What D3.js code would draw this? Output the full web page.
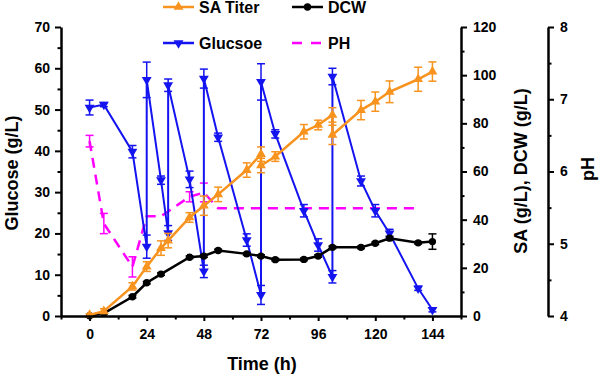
<!DOCTYPE html>
<html>
<head>
<meta charset="utf-8">
<script src="https://cdn.jsdelivr.net/npm/d3@7"></script>
<style>
  body { margin: 0; background: #fff; }
  svg text { font-family: "Liberation Sans", Arial, sans-serif; font-weight: bold; }
</style>
</head>
<body>
<svg width="600" height="375"></svg>
<script>
// glucose (g/L) - duplicate times are the feeding points
const glcTime = [0, 6, 18, 24, 24, 30, 33, 33, 42, 48, 48, 54, 66, 72, 72, 78, 90, 96, 102, 102, 114, 120, 126, 138, 144];
const glcVal  = [50.5, 51.2, 39.8, 16.8, 57.2, 32.9, 20.1, 55.9, 33.1, 10.8, 57.5, 43.3, 18.4, 5.1, 56.7, 44.1, 25.5, 17.2, 9.5, 58.0, 32.7, 25.5, 20.0, 6.7, 1.5];
const glcErr  = [1.8, 0.5, 1.5, 2.8, 4.3, 1.0, 1.8, 1.5, 2.0, 1.5, 2.3, 1.0, 1.5, 2.3, 4.4, 1.0, 1.5, 1.5, 1.5, 2.0, 1.2, 1.5, 1.0, 0.5, 0.5];

// SA titer (g/L)
const saTime = [0, 6, 18, 24, 30, 33, 42, 48, 54, 66, 72, 72, 78, 90, 96, 102, 102, 114, 120, 126, 138, 144];
const saVal  = [0.4, 2.0, 12.3, 20.5, 28.2, 31.3, 40.9, 45.8, 50.5, 60.6, 67.2, 62.5, 66.2, 76.5, 79.3, 83.5, 75.2, 85.5, 89.0, 93.1, 98.3, 101.5];
const saErr  = [0.5, 1, 1.5, 2, 3, 3, 2, 4, 3, 3, 3, 3, 2, 3, 2, 3, 4, 4, 4, 4.5, 5, 4];

// DCW (g/L)
const dcwTime = [0, 6, 18, 24, 30, 42, 48, 54, 66, 72, 78, 90, 96, 102, 114, 120, 126, 138, 144];
const dcwVal  = [0.1, 1.1, 8.0, 13.8, 17.4, 24.4, 24.9, 27.2, 25.8, 24.9, 23.4, 23.5, 24.9, 28.5, 28.5, 30.2, 32.3, 30.4, 30.9];
const dcwErr  = [0, 0.3, 0.5, 0.5, 0.5, 0.5, 0.5, 0.5, 0.5, 0.5, 0.5, 0.5, 0.5, 0.5, 0.5, 0.5, 0.8, 0.5, 3.2];

// pH
const phTime = [0, 6, 18, 24, 30, 42, 48, 54, 66, 72, 78, 90, 96, 102, 114, 120, 126, 138];
const phVal  = [6.42, 5.28, 4.68, 5.38, 5.38, 5.65, 5.71, 5.49, 5.49, 5.49, 5.49, 5.49, 5.49, 5.49, 5.49, 5.49, 5.49, 5.49];
const phErr  = [0.08, 0.14, 0.14, 0, 0, 0.07, 0.13, 0, 0, 0, 0, 0, 0, 0, 0, 0, 0, 0];

const timeTicks = [0, 24, 48, 72, 96, 120, 144];
const orange = '#f7931e', blue = '#1414f0', magenta = '#ff00ff';

const svg = d3.select('svg');

const x = d3.scaleLinear().domain([-12, 156]).range([61, 461]);
const yGlc = d3.scaleLinear().domain([0, 70]).range([316, 27]);
const ySa = d3.scaleLinear().domain([0, 120]).range([316, 27]);
const yPh = d3.scaleLinear().domain([4, 8]).range([316, 27]);

function zip(t, v, e) { return t.map((d, i) => ({t: d, v: v[i], e: e[i]})); }
const glc = zip(glcTime, glcVal, glcErr);
const sa = zip(saTime, saVal, saErr);
const dcw = zip(dcwTime, dcwVal, dcwErr);
const ph = zip(phTime, phVal, phErr);

function errorBars(data, y, color, w) {
    const g = svg.append('g').attr('stroke', color).attr('stroke-width', 1.5);
    const eb = data.filter(d => d.e > 0);
    g.selectAll('.v').data(eb).enter().append('line')
        .attr('x1', d => x(d.t)).attr('x2', d => x(d.t))
        .attr('y1', d => y(d.v - d.e)).attr('y2', d => y(d.v + d.e));
    g.selectAll('.t').data(eb).enter().append('line')
        .attr('x1', d => x(d.t) - w).attr('x2', d => x(d.t) + w)
        .attr('y1', d => y(d.v + d.e)).attr('y2', d => y(d.v + d.e));
    g.selectAll('.b').data(eb).enter().append('line')
        .attr('x1', d => x(d.t) - w).attr('x2', d => x(d.t) + w)
        .attr('y1', d => y(d.v - d.e)).attr('y2', d => y(d.v - d.e));
}

function drawLine(data, y, color, width, dash) {
    svg.append('path').datum(data)
        .attr('fill', 'none').attr('stroke', color).attr('stroke-width', width)
        .attr('stroke-dasharray', dash || null)
        .attr('d', d3.line().x(d => x(d.t)).y(d => y(d.v)));
}

const triUp = d3.symbol().type(d3.symbolTriangle).size(42)();
const dot = d3.symbol().type(d3.symbolCircle).size(42)();

// pH
errorBars(ph, yPh, magenta, 4);
drawLine(ph, yPh, magenta, 2.5, '10,7');

// glucose
drawLine(glc, yGlc, blue, 2, null);
errorBars(glc, yGlc, blue, 4);
svg.append('g').selectAll('path').data(glc).enter().append('path')
    .attr('d', triUp).attr('fill', blue)
    .attr('transform', d => `translate(${x(d.t)},${yGlc(d.v)}) rotate(180)`);

// DCW
drawLine(dcw, ySa, 'black', 2.5, null);
errorBars(dcw, ySa, 'black', 4);
svg.append('g').selectAll('path').data(dcw).enter().append('path')
    .attr('d', dot).attr('fill', 'black')
    .attr('transform', d => `translate(${x(d.t)},${ySa(d.v)})`);

// SA
drawLine(sa, ySa, orange, 2.5, null);
errorBars(sa, ySa, orange, 4);
svg.append('g').selectAll('path').data(sa).enter().append('path')
    .attr('d', triUp).attr('fill', orange)
    .attr('transform', d => `translate(${x(d.t)},${ySa(d.v)})`);

// axes
function styleAxis(g) {
    g.select('.domain').attr('stroke-width', 2.5);
    g.selectAll('.tick line').attr('stroke-width', 2);
    g.selectAll('text').attr('font-size', 14).attr('font-family', '"Liberation Sans", Arial, sans-serif')
        .attr('font-weight', 'bold').attr('fill', 'black');
}
function minor(axis, vals, pos) {
    svg.append('g').attr('transform', pos)
        .call(axis.tickValues(vals).tickSize(3.5).tickSizeOuter(0).tickFormat(''))
        .call(g => { g.select('.domain').remove(); g.selectAll('.tick line').attr('stroke-width', 2); });
}

svg.append('g').attr('transform', 'translate(0,316)')
    .call(d3.axisBottom(x).tickValues(timeTicks).tickSize(5).tickPadding(8).tickSizeOuter(0))
    .call(styleAxis);
minor(d3.axisBottom(x), [-12, 12, 36, 60, 84, 108, 132, 156], 'translate(0,316)');

svg.append('g').attr('transform', 'translate(61,0)')
    .call(d3.axisLeft(yGlc).tickValues(d3.range(0, 71, 10)).tickSize(6).tickPadding(5).tickSizeOuter(0))
    .call(styleAxis);
minor(d3.axisLeft(yGlc), d3.range(5, 70, 10), 'translate(61,0)');

svg.append('g').attr('transform', 'translate(461,0)')
    .call(d3.axisRight(ySa).tickValues(d3.range(0, 121, 20)).tickSize(6).tickPadding(6).tickSizeOuter(0))
    .call(styleAxis);
minor(d3.axisRight(ySa), d3.range(10, 120, 20), 'translate(461,0)');

svg.append('g').attr('transform', 'translate(548,0)')
    .call(d3.axisRight(yPh).tickValues([4, 5, 6, 7, 8]).tickFormat(d3.format('d'))
        .tickSize(6).tickPadding(6).tickSizeOuter(0))
    .call(styleAxis);
minor(d3.axisRight(yPh), [4.5, 5.5, 6.5, 7.5], 'translate(548,0)');

// axis titles
svg.append('text').attr('x', 262).attr('y', 370).attr('text-anchor', 'middle')
    .attr('font-size', 18).text('Time (h)');
svg.append('text').attr('transform', 'translate(12,173) rotate(-90)').attr('dy', '0.35em')
    .attr('text-anchor', 'middle').attr('font-size', 18).text('Glucose (g/L)');
svg.append('text').attr('transform', 'translate(521,171) rotate(-90)').attr('dy', '0.35em')
    .attr('text-anchor', 'middle').attr('font-size', 18).text('SA (g/L), DCW (g/L)');
svg.append('text').attr('transform', 'translate(588,169) rotate(-90)').attr('dy', '0.35em')
    .attr('text-anchor', 'middle').attr('font-size', 18).text('pH');

// legend
const legend = [
    {name: 'SA Titer', color: orange, x: 163, y: 7, mark: triUp, rot: 0},
    {name: 'DCW', color: 'black', x: 292, y: 7, mark: dot, rot: 0},
    {name: 'Glucsoe', color: blue, x: 163, y: 43, mark: triUp, rot: 180},
    {name: 'PH', color: magenta, x: 292, y: 43, mark: null, rot: 0}
];
legend.forEach(l => {
    const g = svg.append('g');
    g.append('line').attr('x1', l.x).attr('x2', l.x + 31).attr('y1', l.y).attr('y2', l.y)
        .attr('stroke', l.color).attr('stroke-width', 2.5)
        .attr('stroke-dasharray', l.mark ? null : '10,9');
    if (l.mark) {
        g.append('path').attr('d', l.mark).attr('fill', l.color)
            .attr('transform', `translate(${l.x + 15.5},${l.y}) rotate(${l.rot})`);
    }
    g.append('text').attr('x', l.x + 36).attr('y', l.y).attr('dy', '0.36em')
        .attr('font-size', 16).text(l.name);
});
</script>
</body>
</html>
